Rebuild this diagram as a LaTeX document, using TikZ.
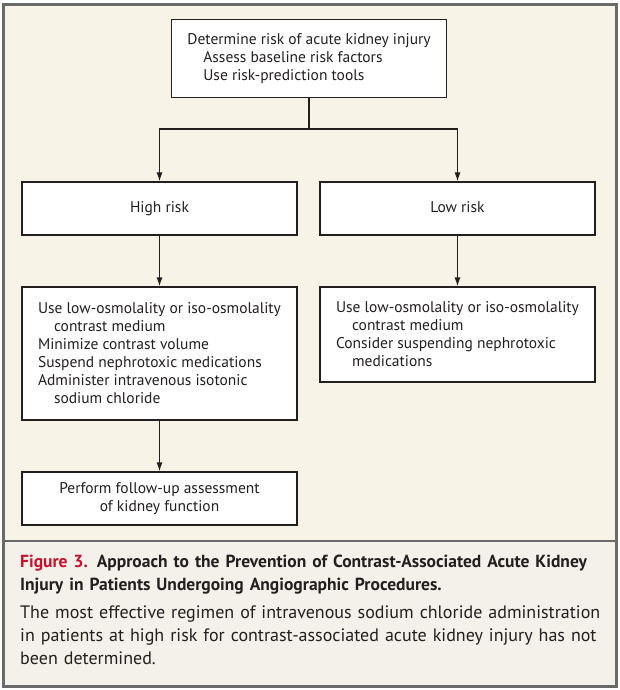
\documentclass[tikz,border=0pt]{standalone}
\usepackage{fontspec}
\setmainfont{PT Sans}
\usetikzlibrary{arrows.meta}
\definecolor{bgtop}{HTML}{F7F4E7}
\definecolor{bgcap}{HTML}{F4F0EA}
\definecolor{frame}{HTML}{6A6A6A}
\definecolor{nejmred}{HTML}{C8102E}
\definecolor{ink}{HTML}{231F20}
\tikzset{
  x=1pt, y=-1pt,
  stepbox/.style={draw=ink, fill=white, line width=1.1pt, inner sep=0pt, align=left,
    font=\fontsize{15.5}{18}\selectfont, text=ink},
  conn/.style={draw=ink, line width=1.3pt},
  arr/.style={conn, -{Latex[length=9pt,width=6pt]}},
}
\newcommand{\ind}{\hspace*{16pt}}
\begin{document}
\begin{tikzpicture}
\useasboundingbox (0,0) rectangle (620,690);
\fill[bgtop] (4,4) rectangle (616,541);
\fill[bgcap] (4,541) rectangle (616,686);
\draw[frame, line width=1.8pt] (4,541) -- (616,541);
\draw[frame, line width=3pt] (3.5,4.5) rectangle (616.5,686);

\node[stepbox, minimum width=275pt, minimum height=78pt] (top) at (309,58.5)
  {Determine risk of acute kidney injury\\
   \ind Assess baseline risk factors\\
   \ind Use risk-prediction tools};
\node[stepbox, minimum width=275pt, minimum height=53pt] (high) at (159.5,208.5) {High risk\strut};
\node[stepbox, minimum width=275pt, minimum height=53pt] (low) at (457.5,208.5) {Low risk\strut};
\node[stepbox, minimum width=275pt, minimum height=133pt] (highd) at (159.5,353.5)
  {Use low-osmolality or iso-osmolality\\
   \ind contrast medium\\
   Minimize contrast volume\\
   Suspend nephrotoxic medications\\
   Administer intravenous isotonic\\
   \ind sodium chloride};
\node[stepbox, minimum width=275pt, minimum height=95pt] (lowd) at (457.5,334.5)
  {Use low-osmolality or iso-osmolality\\
   \ind contrast medium\\
   Consider suspending nephrotoxic\\
   \ind medications};
\node[stepbox, align=center, minimum width=275pt, minimum height=53pt] (fu) at (159.5,498.5)
  {Perform follow-up assessment\\ of kidney function};

\coordinate (split) at (309,129);
\draw[conn] (top.south) -- (split);
\draw[arr] (split) -| (high.north);
\draw[arr] (split) -| (low.north);
\draw[arr] (high) -- (highd);
\draw[arr] (low) -- (lowd);
\draw[arr] (highd) -- (fu);

\node[anchor=north west, inner sep=0pt, text width=590pt, align=left, text=ink,
  font=\fontsize{18}{23}\selectfont] (cap) at (20,555)
  {\hyphenpenalty=10000 \exhyphenpenalty=10000
   {\fontsize{17.5}{23}\selectfont\bfseries{\color{nejmred}Figure 3.} Approach to the Prevention of Contrast-Associated Acute Kidney Injury in Patients Undergoing Angiographic Procedures.\par}
   \vspace{5pt}
   The most effective regimen of intravenous sodium chloride administration in patients at high risk for contrast-associated acute kidney injury has not been determined.\par};
\end{tikzpicture}
\end{document}
